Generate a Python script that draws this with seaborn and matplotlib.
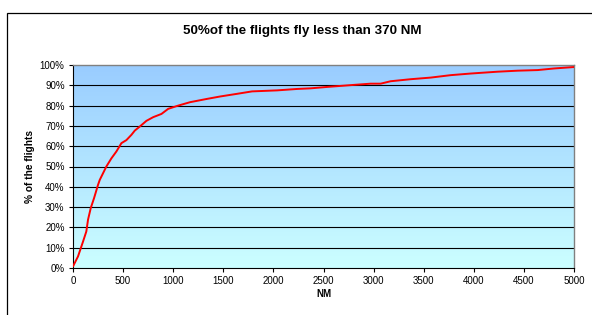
import numpy as np
import pandas as pd
import matplotlib
matplotlib.use("Agg")
import matplotlib.pyplot as plt
import seaborn as sns
from matplotlib.patches import Rectangle

# Daten
nm = [0, 50, 100, 133, 150, 177, 210, 250, 267, 300, 333, 383, 433, 483, 533,
      583, 617, 667, 733, 800, 883, 950, 1050, 1170, 1337, 1470, 1637, 1787,
      2037, 2237, 2370, 2537, 2803, 2970, 3070, 3170, 3370, 3570, 3770, 3970,
      4237, 4437, 4637, 4803, 5000]
pct = [0.8, 5.7, 13, 18, 23.8, 29.5, 34.4, 41, 43.4, 46.7, 50, 54, 57.4, 61.5, 63,
       65.6, 67.7, 69.7, 72.5, 74.3, 75.9, 78.4, 80, 81.7, 83.3, 84.5, 85.8, 87,
       87.5, 88.2, 88.5, 89.2, 90.2, 90.8, 90.8, 92, 93, 93.8, 95, 95.8,
       96.7, 97.2, 97.5, 98.3, 99.0]
x_ticks = [0, 500, 1000, 1500, 2000, 2500, 3000, 3500, 4000, 4500, 5000]
y_ticks = [0, 10, 20, 30, 40, 50, 60, 70, 80, 90, 100]
y_tick_labels = [f"{v}%" for v in y_ticks]

df = pd.DataFrame({"NM": nm, "pct": pct})

sns.set_style("white")
plt.rcParams['font.family'] = ['Liberation Sans', 'DejaVu Sans']
plt.rcParams.update({"text.color": "black", "axes.labelcolor": "black",
                     "xtick.color": "black", "ytick.color": "black"})

fig = plt.figure(figsize=(5.92, 3.15), dpi=100)
ax = fig.add_axes([73 / 592, 1 - 268 / 315, 501 / 592, 203 / 315])

# Rahmen um das Diagramm (rechts und unten abgeschnitten)
fig.patches.append(Rectangle((7 / 592, -0.2), 1.2, 1.2 - 13 / 315,
                             transform=fig.transFigure, fill=False,
                             edgecolor="black", linewidth=0.9))

# Farbverlauf im Hintergrund
grad = np.linspace(0, 1, 256).reshape(-1, 1)
cmap = matplotlib.colors.LinearSegmentedColormap.from_list("bg", ["#CCFFFF", "#99CCFF"])
ax.imshow(grad, extent=[0, 5000, 0, 100], origin="lower", aspect="auto",
          cmap=cmap, zorder=0)

for v in y_ticks[1:-1]:
    ax.axhline(v, color="black", linewidth=0.8, zorder=1)

sns.lineplot(data=df, x="NM", y="pct", color="#FF0000", linewidth=1.4, ax=ax, zorder=3)

ax.set_xlim(0, 5000)
ax.set_ylim(0, 100)
ax.set_xticks(x_ticks)
ax.set_xticklabels([str(v) for v in x_ticks], fontsize=7)
ax.set_yticks(y_ticks)
ax.set_yticklabels(y_tick_labels, fontsize=7)
ax.tick_params(axis="both", direction="out", length=3, width=0.8, color="black", pad=3,
               bottom=True, left=True)

for side in ["top", "right"]:
    ax.spines[side].set_color("#808080")
    ax.spines[side].set_linewidth(1.0)
for side in ["left", "bottom"]:
    ax.spines[side].set_color("black")
    ax.spines[side].set_linewidth(0.8)

ax.set_xlabel("NM", fontsize=7, fontweight="bold", labelpad=2)
ax.set_ylabel("% of the flights", fontsize=7.3, fontweight="bold", labelpad=3.5)

fig.text(302 / 592, 1 - 31 / 315, "50%of the flights fly less than 370 NM",
         ha="center", va="center", fontsize=9.6, fontweight="bold")

fig.savefig("out.png", dpi=100)
